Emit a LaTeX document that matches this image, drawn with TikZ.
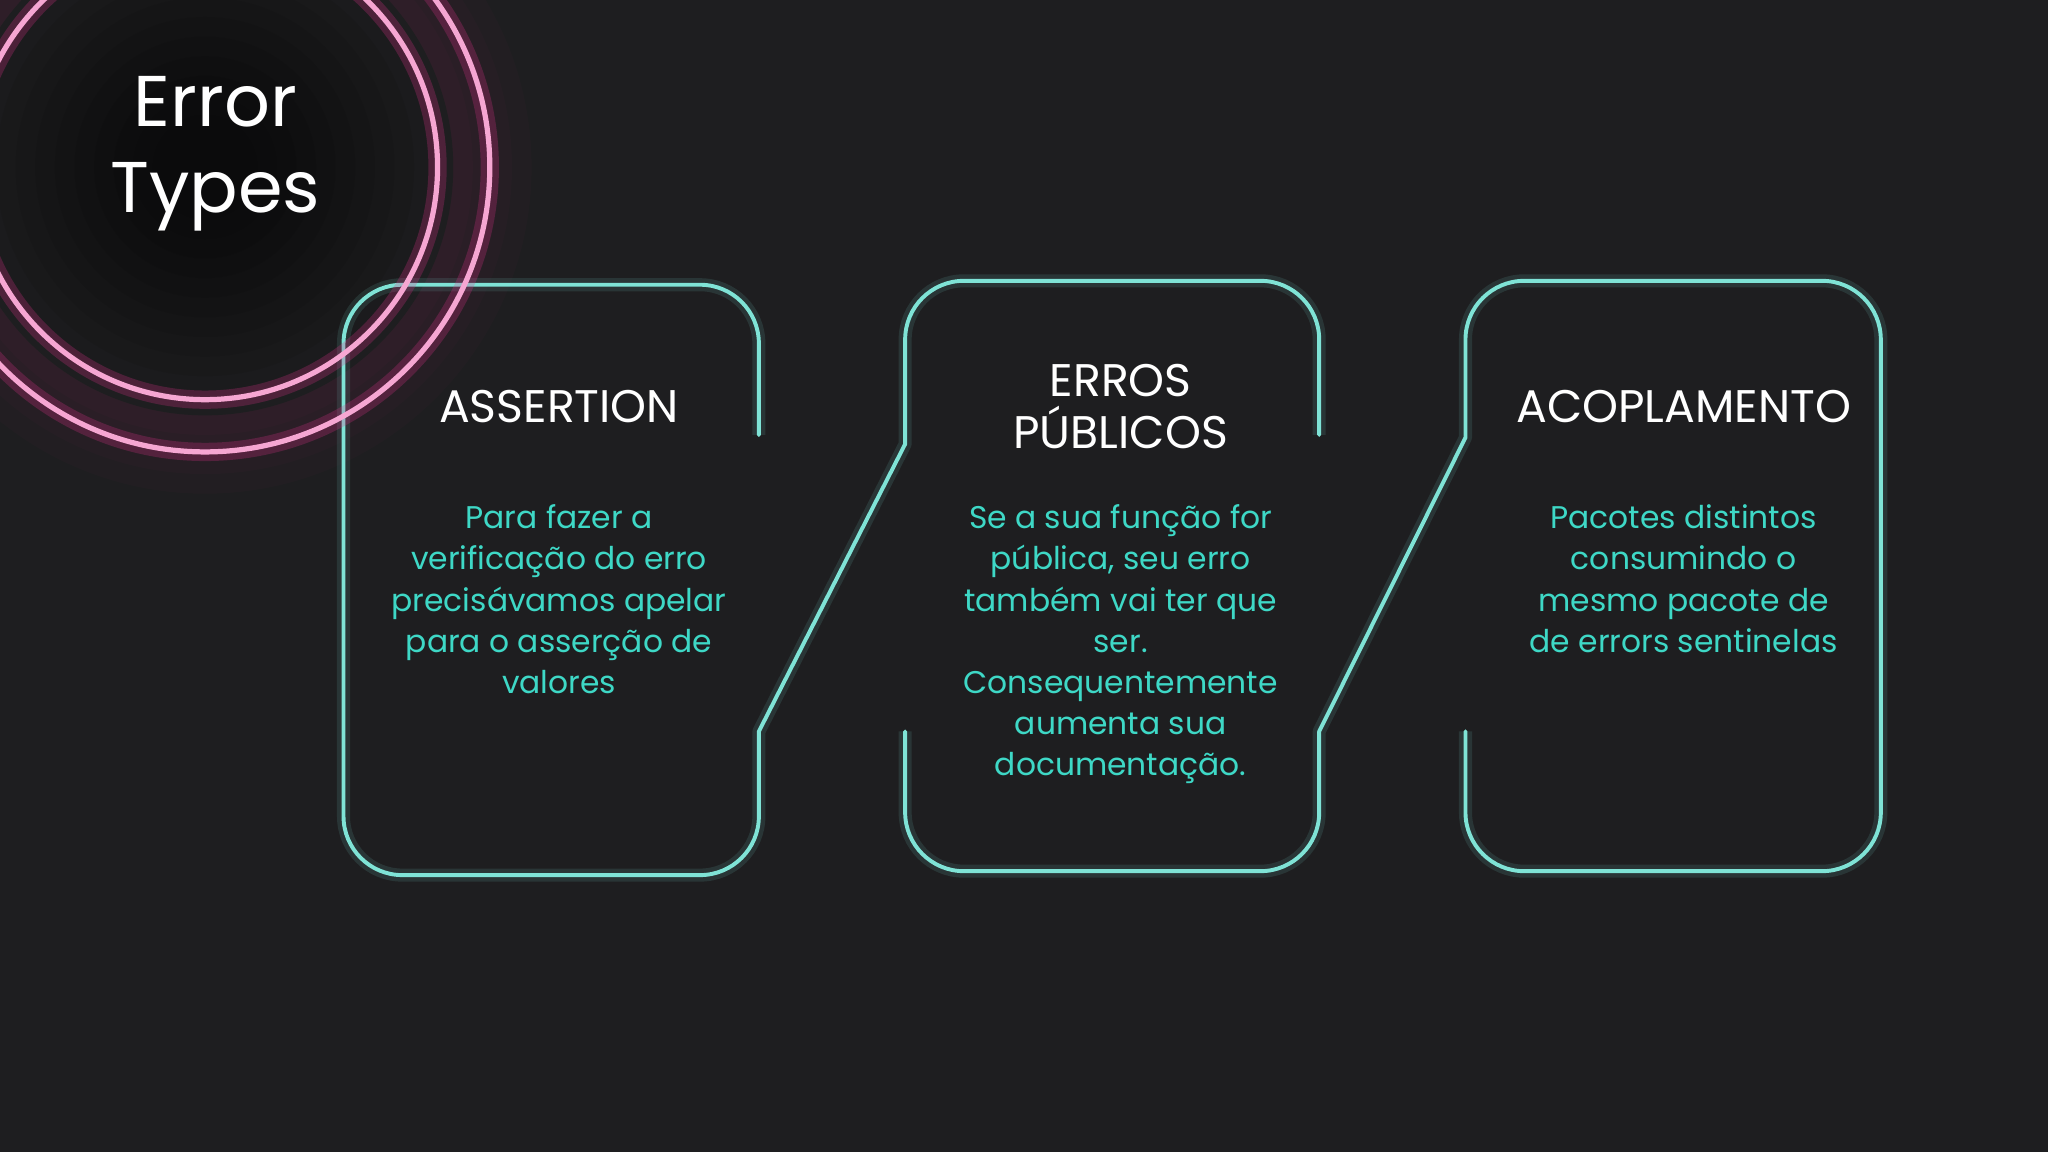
\documentclass[tikz,border=0pt]{standalone}
\usepackage{fontspec}
\setmainfont{Poppins}
\definecolor{bg}{HTML}{1E1E20}
\definecolor{neon}{HTML}{7FE3D6}
\definecolor{teal}{HTML}{3ED8C6}
\definecolor{pink}{HTML}{F6A6D2}
\definecolor{pinkglow}{HTML}{E0308A}
\tikzset{
 glowline/.style={line width=10pt,neon,opacity=0.12,line join=round},
 coreline/.style={line width=3pt,neon,line join=round,line cap=round},
 ring/.style={line width=4pt,pink},
 ringglow/.style={line width=14pt,pinkglow,opacity=0.25},
 head/.style={white,font=\fontsize{35}{40}\selectfont\addfontfeatures{Weight=Light},align=center},
 body/.style={teal,font=\fontsize{24}{31.5}\selectfont\addfontfeatures{Weight=Light},align=center}
}
\begin{document}
\begin{tikzpicture}[x=1pt,y=-1pt]
\fill[bg] (0,0) rectangle (1568,882);
\useasboundingbox (0,0) rectangle (1568,882);
\begin{scope}
\clip (0,0) rectangle (1568,882);
\foreach \r in {250,235,...,200}{\fill[pinkglow,opacity=0.025] (157,128) circle (\r);}
\fill[bg] (157,128) circle (190);
\foreach \r in {175,160,...,40}{\fill[black,opacity=0.07] (157,128) circle (\r);}
\foreach \s in {glowline,coreline}{
\draw[\s,rounded corners=45] (581,333) -- (581,218) -- (263,218) -- (263,670) -- (581,670) [sharp corners] -- (581,560) -- (693,340) [rounded corners=45] -- (693,215) -- (1010,215) [sharp corners] -- (1010,333);
\draw[\s,rounded corners=45] (693,560) -- (693,667) -- (1010,667) [sharp corners] -- (1010,560) -- (1122,335) [rounded corners=45] -- (1122,215) -- (1440,215) -- (1440,667) -- (1122,667) [sharp corners] -- (1122,560);
}
\foreach \r in {178,218}{
\draw[ringglow] (157,128) circle (\r);
\draw[ring] (157,128) circle (\r);}
\end{scope}
\node[white,font=\fontsize{55}{66}\selectfont,align=center] (title) at (165,118) {Error\\Types};
\node[head] (h1) at (428,311) {ASSERTION};
\node[head] (h2) at (858,311) {ERROS\\PÚBLICOS};
\node[head] (h3) at (1289,311) {ACOPLAMENTO};
\node[body,anchor=north] (b1) at (428,383) {Para fazer a\\verificação do erro\\precisávamos apelar\\para o asserção de\\valores};
\node[body,anchor=north] (b2) at (858,383) {Se a sua função for\\pública, seu erro\\também vai ter que\\ser.\\Consequentemente\\aumenta sua\\documentação.};
\node[body,anchor=north] (b3) at (1289,383) {Pacotes distintos\\consumindo o\\mesmo pacote de\\de errors sentinelas};
\end{tikzpicture}
\end{document}
